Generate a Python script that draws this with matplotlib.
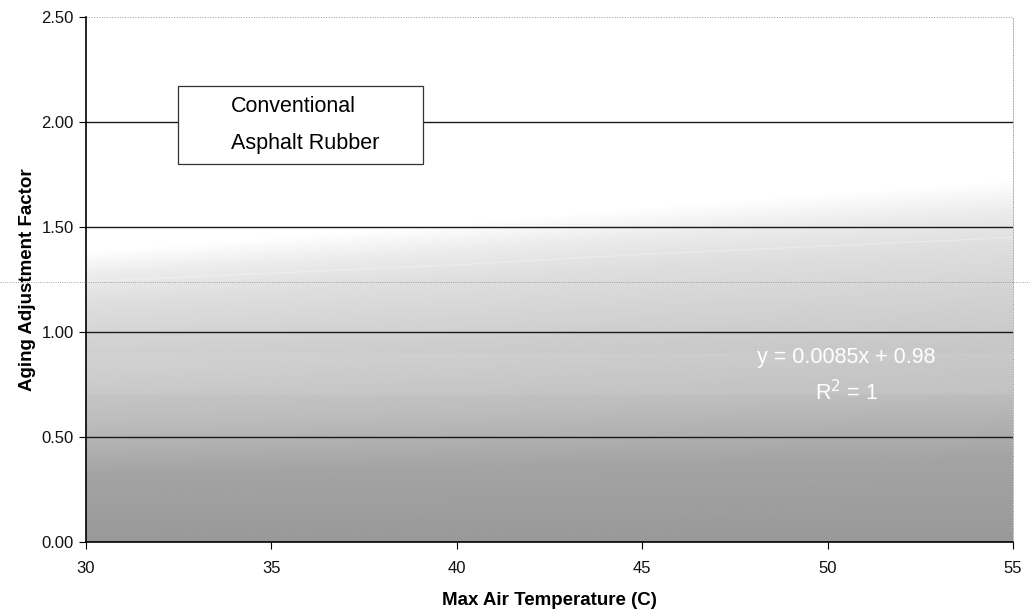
import numpy as np
import matplotlib.pyplot as plt

plt.rcParams['font.family'] = ['Liberation Sans', 'DejaVu Sans']

# Data
temps = [30, 35, 40, 45, 50, 55]
conventional = [0.80, 0.80, 0.80, 0.80, 0.80, 0.80]
asphalt_rubber = [1.24, 1.28, 1.32, 1.37, 1.41, 1.45]
trend_text = 'y = 0.0085x + 0.98\nR$^2$ = 1'
y_ticks = [0.0, 0.5, 1.0, 1.5, 2.0, 2.5]

fig = plt.figure(figsize=(10.30, 6.12), dpi=100)
ax = fig.add_axes([0.0835, 0.1144, 0.9, 0.8578])

# shaded fill under the asphalt rubber curve (gradient, as in the scan)
xs = np.linspace(30, 55, 300)
ys = np.linspace(0, 2.5, 400)
X, Y = np.meshgrid(xs, ys)
top = np.interp(X, temps, asphalt_rubber) + 0.02 + 0.004 * (X - 30)
t = Y / top
shade = np.interp(t, [0, 0.25, 0.45, 0.7, 0.9, 1.0, 1.1],
                  [0.60, 0.64, 0.74, 0.81, 0.87, 0.92, 1.0])
ax.imshow(shade, extent=[30, 55, 0, 2.5], origin='lower', aspect='auto',
          cmap='gray', vmin=0, vmax=1, zorder=0, interpolation='bilinear')

# series lines, washed out in the scan
ax.plot(temps, conventional, color='white', lw=30, alpha=0.08, zorder=1,
        label='Conventional')
ax.plot(temps, asphalt_rubber, color='white', lw=1, alpha=0.25, zorder=1,
        label='Asphalt Rubber')

ax.set_xlim(30, 55)
ax.set_ylim(0, 2.5)
ax.set_xticks(range(30, 56, 5))
ax.set_yticks(y_ticks)
ax.set_yticklabels([f'{v:.2f}' for v in y_ticks])
for v in y_ticks[1:-1]:
    ax.axhline(v, color='#1a1a1a', lw=1.0, zorder=2)
ax.axhline(y_ticks[-1], color='#999999', lw=0.7, ls=':', zorder=2)
ax.tick_params(direction='out', length=5, labelsize=12, color='black',
               labelcolor='#111111', pad=4)
ax.tick_params(axis='x', pad=9)

ax.spines['top'].set_visible(False)
ax.spines['right'].set_color('#aaaaaa')
ax.spines['right'].set_linestyle(':')
ax.spines['right'].set_linewidth(0.7)
ax.spines['left'].set_linewidth(1.2)
ax.spines['bottom'].set_linewidth(1.2)

ax.set_xlabel('Max Air Temperature (C)', fontsize=13.5, fontweight='bold', labelpad=11)
ax.set_ylabel('Aging Adjustment Factor', fontsize=13.5, fontweight='bold', labelpad=4)

ax.text(50.5, 0.79, trend_text, color='white', fontsize=15.5, ha='center',
        va='center', linespacing=1.55, zorder=3)

leg = ax.legend(loc='upper left', bbox_to_anchor=(0.0992, 0.7219, 0.2643, 0.1467),
                mode='expand', frameon=True, fancybox=False, fontsize=15.5,
                handlelength=1.2, borderpad=0.45, labelspacing=0.75,
                handletextpad=0.8, borderaxespad=0, framealpha=1)
leg.get_frame().set_edgecolor('#333333')
leg.get_frame().set_linewidth(0.9)
leg.set_zorder(4)
for h in leg.legend_handles:
    h.set_alpha(0)

# scan artefact: faint dotted line across the page
fig.add_artist(plt.Line2D([0, 1], [1 - 282 / 612, 1 - 282 / 612],
                          color='#888888', lw=0.6, ls=':',
                          transform=fig.transFigure))

fig.savefig('out.png', dpi=100)
